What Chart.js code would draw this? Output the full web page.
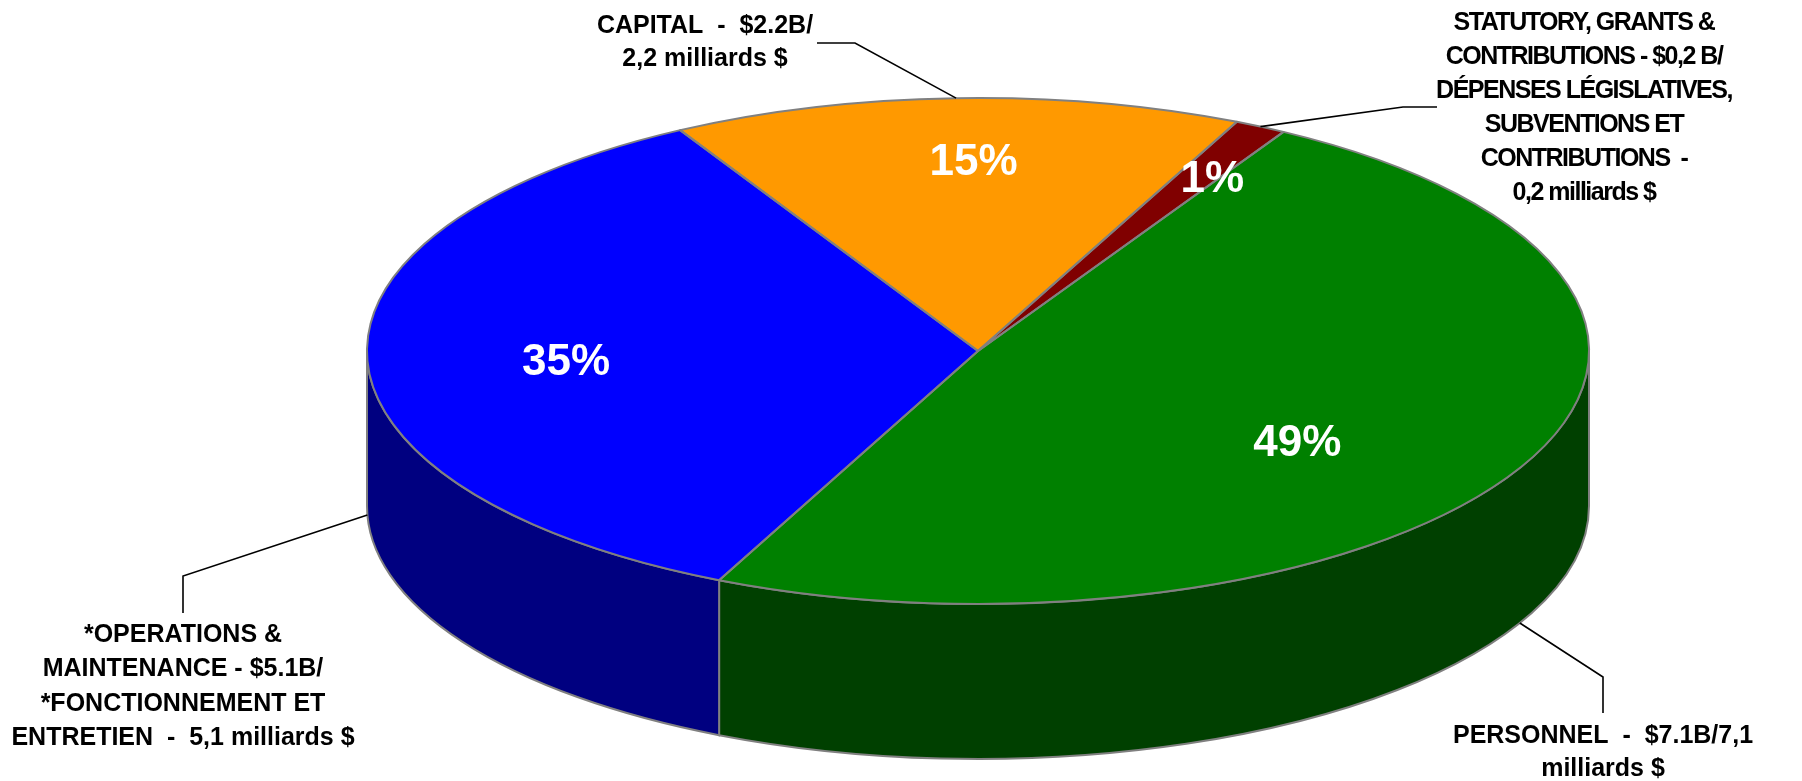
<!DOCTYPE html>
<html>
<head>
<meta charset="utf-8">
<script src="https://cdn.jsdelivr.net/npm/chart.js@4.4.1/dist/chart.umd.min.js"></script>
<style>
  html, body { margin: 0; padding: 0; background: #fff; overflow: hidden; }
  canvas { display: block; }
</style>
</head>
<body>
<canvas id="budgetChart" width="1802" height="781"></canvas>
<script>
// budget split, billions of $
const categories = ['PERSONNEL', 'OPERATIONS & MAINTENANCE', 'CAPITAL', 'STATUTORY, GRANTS & CONTRIBUTIONS'];
const amounts = [7.1, 5.1, 2.2, 0.2];

const calloutText = [
    ['PERSONNEL  -  $7.1B/7,1', 'milliards $'],
    ['*OPERATIONS &', 'MAINTENANCE - $5.1B/', '*FONCTIONNEMENT ET', 'ENTRETIEN  -  5,1 milliards $'],
    ['CAPITAL  -  $2.2B/', '2,2 milliards $'],
    ['STATUTORY, GRANTS &', 'CONTRIBUTIONS - $0,2 B/', 'DÉPENSES LÉGISLATIVES,', 'SUBVENTIONS ET', 'CONTRIBUTIONS  -', '0,2 milliards $']
];

// look
const topColors = ['#008000', '#0000FF', '#FF9900', '#800000'];
const sideColors = ['#004000', '#000080', '#7F4C00', '#400000'];
const EDGE = '#808080';

// where the flattened pie sits on the page
const PX = 978, PY = 351, RX = 611, RY = 253, DEPTH = 155;

// label placement (radius fraction + angle nudge in degrees for the % text)
const pctRadius = [0.63, 0.675, 0.76, 0.79];
const pctNudge = [6.4, -0.6, 1.5, 1.5];
const callouts = [
    { elbow: [1603, 677], end: [1603, 713], x: 1603, y: 743, gap: 33, spacing: 0 },
    { elbow: [183, 576], end: [183, 613], x: 183, y: 642, gap: 34.3, spacing: 0 },
    { elbow: [855, 43], end: [817, 43], x: 705, y: 33, gap: 33, spacing: 0 },
    { elbow: [1403, 107], end: [1437, 107], x: 1584, y: 30, gap: 34, spacing: -1.5 }
];

const total = amounts.reduce((a, b) => a + b, 0);

function rimPoint(a, drop) {
    return [PX + RX * Math.cos(a), PY + RY * Math.sin(a) + drop];
}

const pie3d = {
    id: 'pie3d',
    beforeDatasetsDraw(chart) {
        const ctx = chart.ctx;
        const arcs = chart.getDatasetMeta(0).data;

        // side walls: only the front half (0..PI) shows
        arcs.forEach((arc, i) => {
            for (let k = -1; k <= 1; k++) {
                const lo = Math.max(arc.startAngle, k * 2 * Math.PI);
                const hi = Math.min(arc.endAngle, k * 2 * Math.PI + Math.PI);
                if (hi <= lo) continue;
                ctx.save();
                ctx.beginPath();
                ctx.ellipse(PX, PY, RX, RY, 0, lo, hi);
                ctx.ellipse(PX, PY + DEPTH, RX, RY, 0, hi, lo, true);
                ctx.closePath();
                ctx.fillStyle = sideColors[i];
                ctx.fill();
                ctx.strokeStyle = EDGE;
                ctx.lineWidth = 2;
                ctx.stroke();
                ctx.restore();
            }
        });

        // squash the pie drawn by Chart.js into the top face
        const a = arcs[0];
        ctx.save();
        ctx.translate(PX, PY);
        ctx.scale(RX / a.outerRadius, RY / a.outerRadius);
        ctx.translate(-a.x, -a.y);
    },
    afterDatasetsDraw(chart) {
        const ctx = chart.ctx;
        ctx.restore();
        const arcs = chart.getDatasetMeta(0).data;

        // slice outlines on the top face
        ctx.save();
        ctx.strokeStyle = EDGE;
        ctx.lineWidth = 2;
        ctx.lineJoin = 'round';
        arcs.forEach(arc => {
            ctx.beginPath();
            ctx.moveTo(PX, PY);
            ctx.ellipse(PX, PY, RX, RY, 0, arc.startAngle, arc.endAngle);
            ctx.closePath();
            ctx.stroke();
        });
        ctx.restore();

        // percentages
        ctx.save();
        ctx.fillStyle = '#fff';
        ctx.font = 'bold 44px "Liberation Sans", Arial, sans-serif';
        ctx.textAlign = 'center';
        ctx.textBaseline = 'alphabetic';
        arcs.forEach((arc, i) => {
            const mid = (arc.startAngle + arc.endAngle) / 2 + pctNudge[i] * Math.PI / 180;
            const x = PX + RX * pctRadius[i] * Math.cos(mid);
            const y = PY + RY * pctRadius[i] * Math.sin(mid);
            ctx.fillText(Math.round(amounts[i] / total * 100) + '%', x, y + 16);
        });
        ctx.restore();

        // callouts with leader lines
        ctx.save();
        ctx.strokeStyle = '#000';
        ctx.lineWidth = 1.6;
        ctx.fillStyle = '#000';
        ctx.font = 'bold 25px "Liberation Sans", Arial, sans-serif';
        ctx.textAlign = 'center';
        ctx.textBaseline = 'alphabetic';
        arcs.forEach((arc, i) => {
            const c = callouts[i];
            const mid = (arc.startAngle + arc.endAngle) / 2;
            const s = Math.sin(mid) > 0 ? rimPoint(mid, DEPTH) : rimPoint(mid, 0);
            ctx.beginPath();
            ctx.moveTo(s[0], s[1]);
            ctx.lineTo(c.elbow[0], c.elbow[1]);
            ctx.lineTo(c.end[0], c.end[1]);
            ctx.stroke();
            ctx.letterSpacing = c.spacing + 'px';
            calloutText[i].forEach((line, j) => {
                ctx.fillText(line, c.x, c.y + j * c.gap);
            });
        });
        ctx.restore();
    }
};

new Chart(document.getElementById('budgetChart'), {
    type: 'pie',
    data: {
        labels: categories,
        datasets: [{
            data: amounts,
            backgroundColor: topColors,
            borderWidth: 0,
            clip: false
        }]
    },
    options: {
        responsive: false,
        animation: false,
        devicePixelRatio: 1,
        rotation: 30,
        events: [],
        layout: { padding: 0 },
        plugins: { legend: { display: false }, tooltip: { enabled: false } }
    },
    plugins: [pie3d]
});
</script>
</body>
</html>
